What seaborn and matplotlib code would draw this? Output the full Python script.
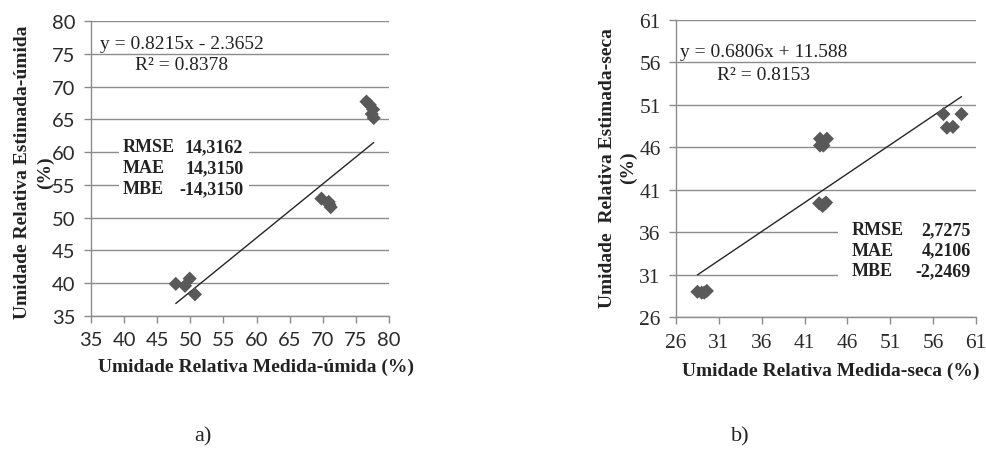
import matplotlib
matplotlib.use("Agg")
import matplotlib.pyplot as plt
import seaborn as sns
import pandas as pd
import numpy as np
from matplotlib.patches import Rectangle

# a) umidade relativa - periodo umido
umida_medida = [47.8, 49.2, 49.9, 50.7, 69.8, 70.9, 71.2, 71.0, 76.6, 77.1, 77.6, 77.7, 77.4]
umida_estimada = [39.9, 39.6, 40.7, 38.3, 52.9, 52.4, 51.6, 52.0, 67.7, 67.2, 66.5, 65.2, 65.8]
umida_coef = (0.8215, -2.3652)
umida_eq = "y = 0.8215x - 2.3652"
umida_r2 = "R² = 0.8378"
umida_stats = [("RMSE", "14,3162"), ("MAE", "14,3150"), ("MBE", "-14,3150")]
umida_ticks = [35, 40, 45, 50, 55, 60, 65, 70, 75, 80]

# b) umidade relativa - periodo seco
seca_medida = [28.5, 29.0, 29.6, 29.3, 42.8, 43.2, 42.8, 43.6, 42.7, 43.5, 43.1, 43.3, 57.2, 59.3, 57.6, 58.3]
seca_estimada = [29.0, 28.9, 29.1, 28.9, 47.0, 46.2, 46.2, 47.0, 39.4, 39.5, 39.1, 39.3, 49.9, 49.9, 48.3, 48.4]
seca_coef = (0.6806, 11.588)
seca_eq = "y = 0.6806x + 11.588"
seca_r2 = "R² = 0.8153"
seca_stats = [("RMSE", "2,7275"), ("MAE", "4,2106"), ("MBE", "-2,2469")]
seca_ticks = [26, 31, 36, 41, 46, 51, 56, 61]

sns.set_theme(style="white")
plt.rcParams['font.family'] = ['Liberation Serif', 'DejaVu Serif']

GRID = '#8c8c8c'
PT = '#595959'
TXT = '#222222'
SERIF = 'Liberation Serif'


def draw_panel(ax, x, y, coef, ticks, tick_font, tick_size):
    df = pd.DataFrame({'medida': x, 'estimada': y})
    sns.scatterplot(data=df, x='medida', y='estimada', ax=ax, marker='D', s=52,
                    color=PT, edgecolor='none', zorder=4, clip_on=False)
    xs = np.array([min(x), max(x)])
    ax.plot(xs, coef[0] * xs + coef[1], color='#262626', lw=1.0, zorder=3)

    ax.set_xlim(ticks[0], ticks[-1])
    ax.set_ylim(ticks[0], ticks[-1])
    ax.set_xticks(ticks)
    ax.set_yticks(ticks)
    ax.yaxis.grid(True, color=GRID, lw=1.0, zorder=0)
    ax.xaxis.grid(False)
    ax.set_axisbelow(True)
    for s in ['top', 'right']:
        ax.spines[s].set_visible(False)
    for s in ['left', 'bottom']:
        ax.spines[s].set_color(GRID)
        ax.spines[s].set_linewidth(1.0)
    ax.tick_params(axis='both', which='major', direction='out', length=5,
                   width=1.0, color=GRID, labelsize=tick_size, labelcolor='#2a2a2a', pad=6,
                   left=True, bottom=True)
    for lab in ax.get_xticklabels() + ax.get_yticklabels():
        lab.set_fontfamily(tick_font)


def draw_stats(ax, stats, x0, x1, y0, dy):
    for i, (name, val) in enumerate(stats):
        yy = y0 - i * dy
        ax.text(x0, yy, name, fontsize=13, family=SERIF, weight='bold', va='center',
                ha='left', zorder=5, color=TXT)
        ax.text(x1, yy, val, fontsize=13, family=SERIF, weight='bold', va='center',
                ha='right', zorder=5, color=TXT)


fig = plt.figure(figsize=(9.86, 4.52), dpi=100)

# ---- panel a
ax1 = fig.add_axes([0.0923, 0.2987, 0.3022, 0.6527])
draw_panel(ax1, umida_medida, umida_estimada, umida_coef, umida_ticks, 'Lato', 14.5)
ax1.text(36.4, 76.6, umida_eq, fontsize=14, family=SERIF, va='center', ha='left', color=TXT)
ax1.text(41.6, 73.3, umida_r2, fontsize=14, family=SERIF, va='center', ha='left', color=TXT)
ax1.add_patch(Rectangle((39.3, 53.2), 19.6, 9.3, facecolor='white', edgecolor='none', zorder=2))
draw_stats(ax1, umida_stats, 39.8, 58.0, 60.8, 3.2)
ax1.set_xlabel('Umidade Relativa Medida-úmida (%)', fontsize=14, family=SERIF, weight='bold', color=TXT)
ax1.set_ylabel('Umidade Relativa Estimada-úmida\n(%)', fontsize=14, family=SERIF, weight='bold',
               color=TXT, linespacing=1.4)
ax1.xaxis.set_label_coords(0.554, -0.14)
ax1.yaxis.set_label_coords(-0.125, 0.49)

# ---- panel b
ax2 = fig.add_axes([0.6856, 0.2958, 0.3043, 0.6584])
draw_panel(ax2, seca_medida, seca_estimada, seca_coef, seca_ticks, SERIF, 15.5)
ax2.text(26.5, 57.3, seca_eq, fontsize=14, family=SERIF, va='center', ha='left', color=TXT)
ax2.text(30.8, 54.6, seca_r2, fontsize=14, family=SERIF, va='center', ha='left', color=TXT)
ax2.add_patch(Rectangle((44.9, 30.0), 16.1, 7.4, facecolor='white', edgecolor='none', zorder=2))
draw_stats(ax2, seca_stats, 46.5, 60.4, 36.3, 2.4)
ax2.set_xlabel('Umidade Relativa Medida-seca (%)', fontsize=14, family=SERIF, weight='bold', color=TXT)
ax2.set_ylabel('Umidade  Relativa Estimada-seca\n(%)', fontsize=14, family=SERIF, weight='bold',
               color=TXT, linespacing=1.3)
ax2.xaxis.set_label_coords(0.517, -0.15)
ax2.yaxis.set_label_coords(-0.13, 0.505)

# sub-figure labels
fig.text(203 / 986, 1 - 437 / 452, 'a)', fontsize=16, family=SERIF, ha='center', va='center', color=TXT)
fig.text(740 / 986, 1 - 437 / 452, 'b)', fontsize=16, family=SERIF, ha='center', va='center', color=TXT)

fig.savefig('out.png', dpi=100, facecolor='white')
